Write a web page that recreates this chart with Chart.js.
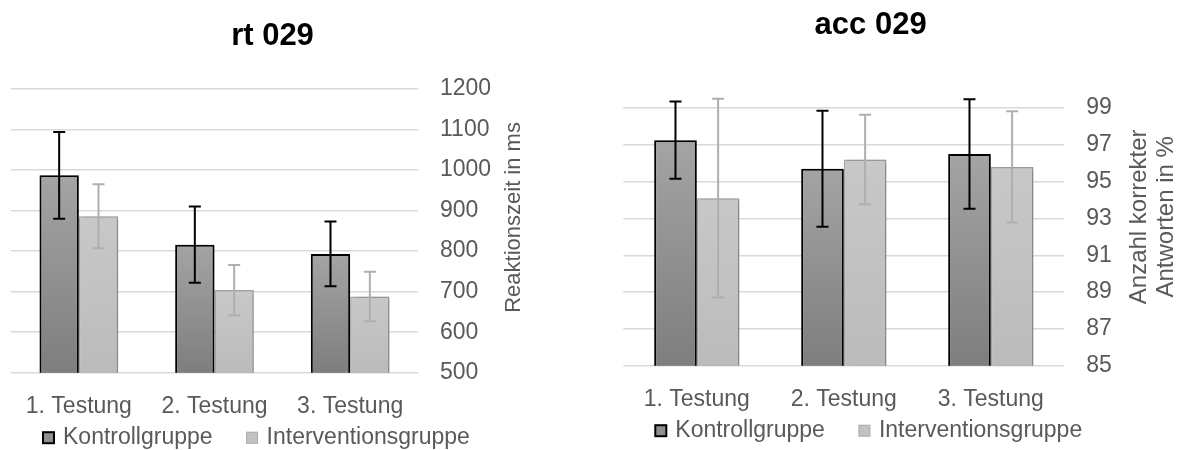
<!DOCTYPE html>
<html>
<head>
<meta charset="utf-8">
<script src="https://cdn.jsdelivr.net/npm/chart.js@4/dist/chart.umd.min.js"></script>
<style>
body { margin:0; background:#fff; width:1187px; height:450px; position:relative; overflow:hidden; }
canvas { position:absolute; top:0; }
#rtChart { left:0; }
#accChart { left:590px; }
</style>
</head>
<body>
<canvas id="rtChart" width="590" height="450"></canvas>
<canvas id="accChart" width="597" height="450"></canvas>
<script>
var categories = ['1. Testung', '2. Testung', '3. Testung'];
var groupNames = ['Kontrollgruppe', 'Interventionsgruppe'];

// rt 029 - Reaktionszeit in ms
var rtKontroll = [987, 816, 793];
var rtKontrollErr = [107, 94, 80];
var rtIntervention = [886, 704, 688];
var rtInterventionErr = [79, 62, 61];
var rtMin = 500, rtMax = 1200, rtStep = 100;

// acc 029 - Anzahl korrekter Antworten in %
var accKontroll = [97.25, 95.7, 96.5];
var accKontrollErr = [2.1, 3.15, 2.98];
var accIntervention = [94.1, 96.2, 95.8];
var accInterventionErr = [5.4, 2.43, 3.02];
var accMin = 85, accMax = 99, accStep = 2;

var font = '"Liberation Sans", Arial, sans-serif';
Chart.defaults.font.family = font;
Chart.defaults.color = '#595959';

function barGradient(top, bottom) {
    return function(ctx) {
        var chart = ctx.chart, ca = chart.chartArea;
        if (!ca || ctx.type !== 'data') return bottom;
        var y = chart.scales.y.getPixelForValue(ctx.raw);
        var g = chart.ctx.createLinearGradient(0, y, 0, ca.bottom);
        g.addColorStop(0, top);
        g.addColorStop(1, bottom);
        return g;
    };
}

// shadow under the bars + error bars on top
var barExtras = {
    id: 'barExtras',
    beforeDatasetsDraw: function(chart) {
        var c = chart.ctx;
        c.save();
        c.shadowColor = 'rgba(0,0,0,0.28)';
        c.shadowBlur = 5;
        c.shadowOffsetX = 2;
    },
    afterDatasetsDraw: function(chart) {
        var c = chart.ctx;
        c.restore();
        var y = chart.scales.y;
        chart.data.datasets.forEach(function(ds, i) {
            var meta = chart.getDatasetMeta(i);
            c.save();
            c.strokeStyle = ds.errColor;
            c.lineWidth = 2;
            meta.data.forEach(function(bar, j) {
                var top = y.getPixelForValue(ds.data[j] + ds.errors[j]);
                var bot = y.getPixelForValue(ds.data[j] - ds.errors[j]);
                c.beginPath();
                c.moveTo(bar.x, top); c.lineTo(bar.x, bot);
                c.moveTo(bar.x - 6, top); c.lineTo(bar.x + 6, top);
                c.moveTo(bar.x - 6, bot); c.lineTo(bar.x + 6, bot);
                c.stroke();
            });
            c.restore();
        });
    }
};

var boxLegend = {
    id: 'boxLegend',
    afterDraw: function(chart, args, opts) {
        var c = chart.ctx, ca = chart.chartArea;
        var x = ca.left + opts.indent, y = ca.bottom + opts.offset;
        c.save();
        c.font = '23px ' + font;
        c.textBaseline = 'middle';
        c.textAlign = 'left';
        chart.data.datasets.forEach(function(ds) {
            c.fillStyle = ds.legendFill;
            c.fillRect(x, y - 5.5, 11, 11);
            c.strokeStyle = ds.borderColor;
            c.lineWidth = ds.legendBorder;
            c.strokeRect(x, y - 5.5, 11, 11);
            c.fillStyle = '#595959';
            c.fillText(ds.label, x + 20, y);
            x += 20 + c.measureText(ds.label).width + 34;
        });
        c.restore();
    }
};

// rotated axis title right of the value axis (reads bottom to top)
var sideTitle = {
    id: 'sideTitle',
    afterDraw: function(chart, args, opts) {
        var c = chart.ctx, ca = chart.chartArea;
        c.save();
        c.translate(ca.right + opts.offset, (ca.top + ca.bottom) / 2 + opts.dy);
        c.rotate(-Math.PI / 2);
        c.font = opts.size + 'px ' + font;
        c.fillStyle = '#595959';
        c.textAlign = 'center';
        c.textBaseline = 'middle';
        opts.lines.forEach(function(t, i) {
            c.fillText(t, 0, (i - (opts.lines.length - 1) / 2) * opts.lineHeight);
        });
        c.restore();
    }
};

function makeChart(id, s) {
    return new Chart(document.getElementById(id), {
        type: 'bar',
        data: {
            labels: categories,
            datasets: [
                {
                    label: groupNames[0],
                    data: s.kontroll,
                    errors: s.kontrollErr,
                    errColor: '#000',
                    backgroundColor: barGradient('#a4a4a4', '#7e7e7e'),
                    borderColor: '#000',
                    borderWidth: 2,
                    legendFill: '#8f8f8f',
                    legendBorder: 2
                },
                {
                    label: groupNames[1],
                    data: s.intervention,
                    errors: s.interventionErr,
                    errColor: '#b3aeae',
                    backgroundColor: barGradient('#c8c8c8', '#bbbbbb'),
                    borderColor: '#a9a9a9',
                    borderWidth: 1.5,
                    legendFill: '#c2c2c2',
                    legendBorder: 1
                }
            ]
        },
        options: {
            responsive: false,
            animation: false,
            categoryPercentage: 0.58,
            barPercentage: 1,
            layout: { padding: s.padding },
            plugins: {
                legend: { display: false },
                tooltip: { enabled: false },
                title: {
                    display: true,
                    text: s.title,
                    color: '#000',
                    font: { size: 31, weight: 'bold' },
                    padding: s.titlePadding
                },
                boxLegend: { indent: 32, offset: 65 },
                sideTitle: s.axisTitle
            },
            scales: {
                x: {
                    grid: { display: false },
                    border: { display: false },
                    ticks: { font: { size: 23 }, color: '#595959', padding: 12, maxRotation: 0, autoSkip: false },
                    afterFit: function(sc) { sc.height = 55; }
                },
                y: {
                    position: 'right',
                    min: s.min,
                    max: s.max,
                    ticks: {
                        stepSize: s.step, font: { size: 23 }, color: '#595959', padding: 22,
                        callback: function(v) { return String(v); }
                    },
                    grid: { color: '#d9d9d9', lineWidth: 1.5, drawTicks: false },
                    border: { display: false },
                    afterFit: function(sc) { sc.width = s.axisWidth; }
                }
            }
        },
        plugins: [barExtras, boxLegend, sideTitle]
    });
}

makeChart('rtChart', {
    title: 'rt 029',
    kontroll: rtKontroll, kontrollErr: rtKontrollErr,
    intervention: rtIntervention, interventionErr: rtInterventionErr,
    min: rtMin, max: rtMax, step: rtStep,
    padding: { left: 11, right: 56, top: 0, bottom: 22.3 },
    titlePadding: { top: 17.4, bottom: 34.4 },
    axisWidth: 116,
    axisTitle: { lines: ['Reaktionszeit in ms'], size: 22, lineHeight: 27, offset: 96.4, dy: -13.4 }
});

makeChart('accChart', {
    title: 'acc 029',
    kontroll: accKontroll, kontrollErr: accKontrollErr,
    intervention: accIntervention, interventionErr: accInterventionErr,
    min: accMin, max: accMax, step: accStep,
    padding: { left: 33.3, right: 69, top: 0, bottom: 29.3 },
    titlePadding: { top: 6.7, bottom: 64.1 },
    axisWidth: 53.7,
    axisTitle: { lines: ['Anzahl korrekter', 'Antworten in %'], size: 24, lineHeight: 27, offset: 88.9, dy: -20 }
});
</script>
</body>
</html>
